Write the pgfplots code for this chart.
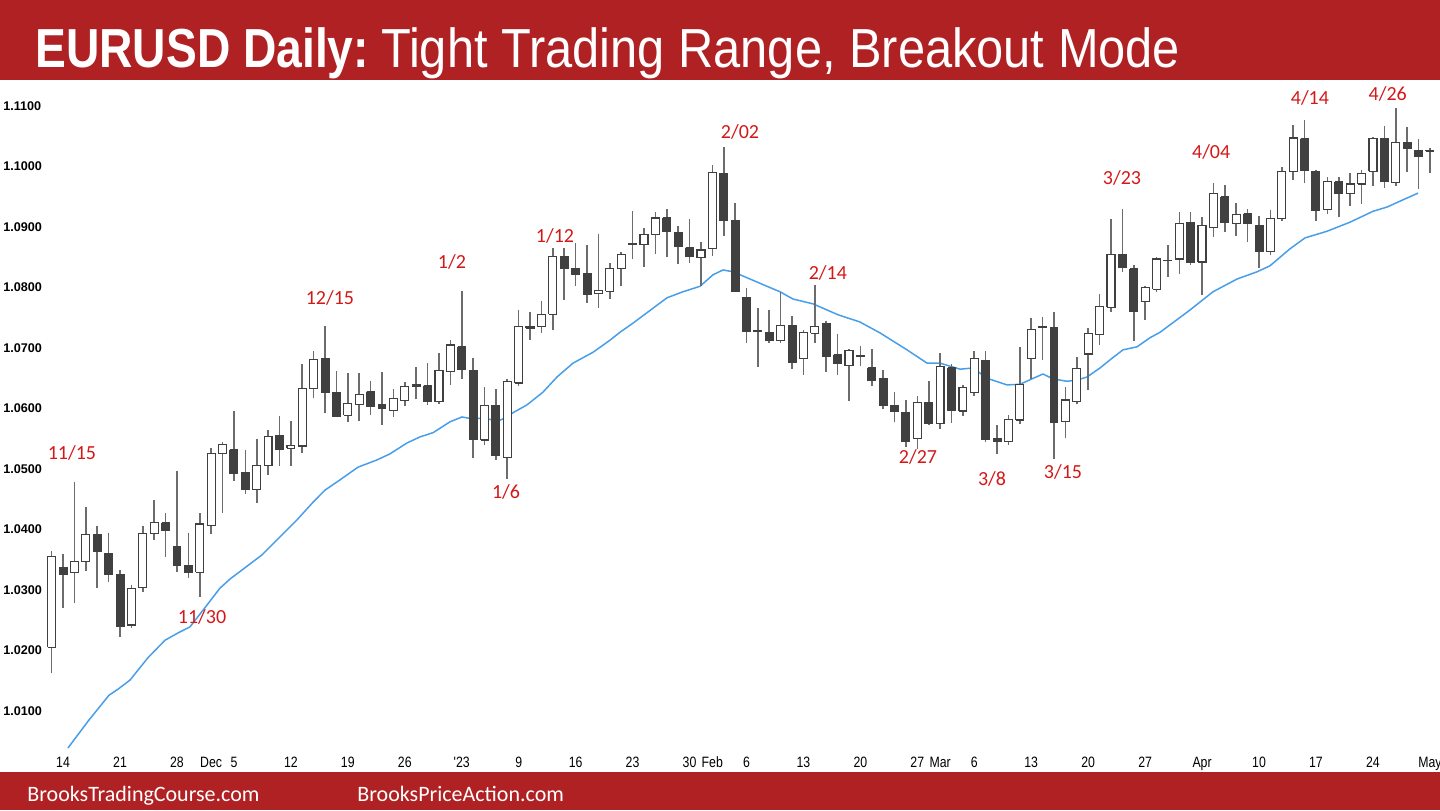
\documentclass[border=0pt]{standalone}
\usepackage{pgfplots}
\usepackage{pgfplotstable}
\pgfplotsset{compat=1.18}
\usepackage{fontspec}
\setmainfont{Liberation Sans}
\newfontfamily\titlebold[FakeStretch=0.84]{Liberation Sans Bold}
\newfontfamily\titlereg[FakeStretch=0.887]{Liberation Sans}
\newfontfamily\narrowfont[FakeStretch=0.82]{Liberation Sans}
\newfontfamily\calibri{Carlito}

\definecolor{banner}{RGB}{176,33,36}
\definecolor{lblred}{RGB}{212,24,24}
\definecolor{emablue}{RGB}{72,158,232}
\definecolor{bodydark}{RGB}{64,64,64}
\definecolor{wickgray}{RGB}{108,108,108}

\pgfplotsset{
  wick/.style={draw=wickgray, line width=0.8pt},
  bearbody/.style={fill=bodydark, draw=bodydark, line width=0.5pt, line join=miter},
  bullbody/.style={fill=white, draw=bodydark, line width=0.6pt, line join=miter},
}
\tikzset{lbl/.style={text=lblred, font=\calibri\fontsize{10}{12}\selectfont, inner sep=0pt}}

\pgfplotstableread{
i o h l c
0 1.0205 1.0365 1.0162 1.0355
1 1.0337 1.0359 1.0270 1.0325
2 1.0329 1.0479 1.0279 1.0347
3 1.0347 1.0438 1.0331 1.0392
4 1.0391 1.0405 1.0304 1.0364
5 1.0361 1.0395 1.0313 1.0325
6 1.0325 1.0333 1.0222 1.0240
7 1.0242 1.0308 1.0238 1.0302
8 1.0304 1.0405 1.0296 1.0394
9 1.0394 1.0448 1.0382 1.0411
10 1.0411 1.0428 1.0355 1.0398
11 1.0372 1.0497 1.0330 1.0340
12 1.0341 1.0395 1.0319 1.0329
13 1.0329 1.0428 1.0289 1.0409
14 1.0406 1.0534 1.0392 1.0525
15 1.0525 1.0545 1.0428 1.0541
16 1.0532 1.0596 1.0480 1.0493
17 1.0494 1.0532 1.0458 1.0466
18 1.0466 1.0550 1.0443 1.0506
19 1.0506 1.0565 1.0490 1.0554
20 1.0556 1.0587 1.0505 1.0533
21 1.0534 1.0580 1.0505 1.0539
22 1.0538 1.0673 1.0527 1.0633
23 1.0633 1.0695 1.0618 1.0681
24 1.0683 1.0736 1.0592 1.0626
25 1.0626 1.0662 1.0586 1.0587
26 1.0589 1.0658 1.0577 1.0608
27 1.0607 1.0658 1.0579 1.0623
28 1.0628 1.0645 1.0590 1.0604
29 1.0606 1.0660 1.0573 1.0600
30 1.0597 1.0633 1.0586 1.0617
31 1.0613 1.0643 1.0604 1.0637
32 1.0637 1.0669 1.0615 1.0639
33 1.0638 1.0675 1.0606 1.0612
34 1.0611 1.0691 1.0608 1.0663
35 1.0661 1.0713 1.0639 1.0705
36 1.0702 1.0795 1.0649 1.0665
37 1.0663 1.0683 1.0519 1.0549
38 1.0548 1.0636 1.0540 1.0605
39 1.0605 1.0632 1.0515 1.0523
40 1.0519 1.0648 1.0483 1.0645
41 1.0642 1.0763 1.0637 1.0735
42 1.0733 1.0760 1.0713 1.0736
43 1.0735 1.0777 1.0725 1.0756
44 1.0756 1.0866 1.0730 1.0851
45 1.0851 1.0866 1.0779 1.0832
46 1.0832 1.0874 1.0803 1.0822
47 1.0823 1.0870 1.0775 1.0788
48 1.0790 1.0888 1.0766 1.0795
49 1.0794 1.0840 1.0781 1.0832
50 1.0831 1.0859 1.0802 1.0855
51 1.0871 1.0927 1.0847 1.0873
52 1.0871 1.0898 1.0834 1.0888
53 1.0888 1.0925 1.0856 1.0915
54 1.0915 1.0929 1.0851 1.0892
55 1.0891 1.0901 1.0839 1.0868
56 1.0866 1.0914 1.0840 1.0852
57 1.0849 1.0876 1.0803 1.0862
58 1.0864 1.1002 1.0852 1.0990
59 1.0989 1.1033 1.0885 1.0911
60 1.0911 1.0940 1.0793 1.0794
61 1.0783 1.0799 1.0709 1.0727
62 1.0727 1.0766 1.0669 1.0728
63 1.0725 1.0762 1.0709 1.0713
64 1.0712 1.0793 1.0708 1.0737
65 1.0737 1.0753 1.0666 1.0676
66 1.0683 1.0730 1.0656 1.0725
67 1.0724 1.0804 1.0708 1.0736
68 1.0740 1.0745 1.0661 1.0686
69 1.0689 1.0723 1.0655 1.0674
70 1.0671 1.0699 1.0612 1.0696
71 1.0686 1.0704 1.0670 1.0687
72 1.0667 1.0698 1.0637 1.0647
73 1.0649 1.0664 1.0600 1.0605
74 1.0605 1.0628 1.0577 1.0595
75 1.0594 1.0614 1.0537 1.0545
76 1.0550 1.0621 1.0533 1.0610
77 1.0610 1.0646 1.0573 1.0575
78 1.0575 1.0691 1.0566 1.0669
79 1.0667 1.0674 1.0576 1.0596
80 1.0596 1.0639 1.0588 1.0635
81 1.0626 1.0695 1.0621 1.0683
82 1.0680 1.0695 1.0545 1.0549
83 1.0550 1.0573 1.0525 1.0545
84 1.0545 1.0590 1.0539 1.0582
85 1.0581 1.0701 1.0574 1.0640
86 1.0683 1.0749 1.0649 1.0731
87 1.0734 1.0752 1.0680 1.0735
88 1.0734 1.0760 1.0517 1.0577
89 1.0578 1.0636 1.0551 1.0614
90 1.0611 1.0685 1.0607 1.0666
91 1.0690 1.0733 1.0631 1.0724
92 1.0722 1.0789 1.0705 1.0769
93 1.0767 1.0913 1.0760 1.0855
94 1.0855 1.0929 1.0826 1.0833
95 1.0831 1.0838 1.0712 1.0760
96 1.0777 1.0803 1.0746 1.0800
97 1.0797 1.0850 1.0793 1.0847
98 1.0844 1.0871 1.0818 1.0845
99 1.0847 1.0925 1.0823 1.0906
100 1.0908 1.0925 1.0837 1.0842
101 1.0842 1.0917 1.0788 1.0903
102 1.0899 1.0973 1.0884 1.0956
103 1.0950 1.0970 1.0892 1.0907
104 1.0906 1.0939 1.0885 1.0921
105 1.0922 1.0929 1.0876 1.0906
106 1.0902 1.0918 1.0832 1.0860
107 1.0859 1.0928 1.0854 1.0914
108 1.0914 1.1000 1.0910 1.0992
109 1.0992 1.1069 1.0978 1.1047
110 1.1046 1.1077 1.0972 1.0993
111 1.0992 1.0994 1.0910 1.0927
112 1.0929 1.0982 1.0921 1.0975
113 1.0975 1.0982 1.0917 1.0956
114 1.0956 1.0990 1.0934 1.0971
115 1.0971 1.0994 1.0938 1.0989
116 1.0992 1.1049 1.0967 1.1046
117 1.1046 1.1067 1.0964 1.0975
118 1.0973 1.1096 1.0968 1.1040
119 1.1040 1.1065 1.0991 1.1029
120 1.1027 1.1045 1.0963 1.1017
121 1.1025 1.1030 1.0989 1.1027
}\candles

\begin{document}
\begin{tikzpicture}
\useasboundingbox (0pt,0pt) rectangle (720pt,405pt);
% banners
\fill[banner] (0pt,365pt) rectangle (720pt,405pt);
\fill[banner] (0pt,0pt) rectangle (720pt,19pt);
\node[anchor=base west, inner sep=0pt, text=white, font=\fontsize{27.5}{30}\selectfont]
  at (17.5pt,371pt) {{\titlebold EURUSD Daily:}\hspace{6pt}{\titlereg Tight Trading Range, Breakout Mode}};
\node[anchor=base west, inner sep=0pt, text=white, font=\calibri\fontsize{11}{13}\selectfont]
  at (13.5pt,4.5pt) {BrooksTradingCourse.com};
\node[anchor=base west, inner sep=0pt, text=white, font=\calibri\fontsize{11}{13}\selectfont]
  at (178.5pt,4.5pt) {BrooksPriceAction.com};

\begin{axis}[
  at={(0pt,29pt)}, anchor=south west,
  scale only axis, width=720pt, height=335pt,
  xmin=-4.539, xmax=121.89, ymin=1.00322, ymax=1.11397,
  axis line style={draw=none},
  major tick length=0pt,
  clip=false,
  xtick={1,6,11,14,16,21,26,31,36,41,46,51,56,58,61,66,71,76,78,81,86,91,96,101,106,111,116,121},
  xticklabels={14,21,28,Dec,5,12,19,26,'23,9,16,23,30,Feb,6,13,20,27,Mar,6,13,20,27,Apr,10,17,24,May},
  xticklabel style={anchor=base, inner sep=0pt, yshift=-7.5pt, font=\narrowfont\fontsize{7.5}{9}\selectfont},
  ytick={1.01,1.02,1.03,1.04,1.05,1.06,1.07,1.08,1.09,1.10,1.11},
  yticklabels={1.0100,1.0200,1.0300,1.0400,1.0500,1.0600,1.0700,1.0800,1.0900,1.1000,1.1100},
  yticklabel style={anchor=west, inner sep=0pt, xshift=1.5pt, font=\bfseries\fontsize{6.3}{7.5}\selectfont},
]
% EMA
\addplot[emablue, line width=0.75pt] coordinates {
(1.43,1.00389) (3.27,1.00850) (5.03,1.01260) (5.82,1.01360) (6.87,1.01510) (8.45,1.01880) (9.95,1.02170) (11.09,1.02290) (12.14,1.02390) (13.63,1.02750) (14.77,1.03030) (15.65,1.03180) (18.46,1.03580) (21.54,1.04160) (22.94,1.04450) (23.99,1.04650) (25.31,1.04820) (26.89,1.05030) (28.56,1.05150) (29.70,1.05250) (31.19,1.05430) (32.33,1.05530) (33.48,1.05600) (34.97,1.05780) (36.02,1.05860) (36.90,1.05830) (38.04,1.05840) (39.10,1.05790) (39.80,1.05840) (40.50,1.05930) (41.73,1.06060) (43.13,1.06270) (44.36,1.06520) (45.77,1.06750) (47.53,1.06930) (49.02,1.07130) (49.89,1.07260) (51.03,1.07410) (54.02,1.07830) (55.43,1.07930) (56.92,1.08020) (58.06,1.08210) (58.94,1.08290) (59.82,1.08260) (61.31,1.08140) (62.80,1.08020) (63.94,1.07930) (65.08,1.07810) (66.84,1.07730) (69.03,1.07550) (70.96,1.07430) (72.72,1.07250) (75.09,1.06970) (76.85,1.06750) (77.99,1.06750) (79.75,1.06650) (80.89,1.06670) (82.12,1.06500) (83.87,1.06390) (85.01,1.06400) (86.07,1.06490) (87.03,1.06570) (87.91,1.06490) (89.14,1.06450) (90.02,1.06470) (90.90,1.06520) (92.04,1.06670) (93.09,1.06830) (94.06,1.06970) (95.29,1.07020) (96.43,1.07170) (97.31,1.07260) (99.95,1.07630) (101.96,1.07930) (104.07,1.08140) (105.83,1.08260) (106.97,1.08360) (108.72,1.08640) (110.04,1.08820) (111.97,1.08930) (113.99,1.09080) (116.01,1.09260) (117.24,1.09330) (119.0,1.09480) (119.96,1.09560)
};
% candles
\pgfplotstablegetrowsof{\candles}
\pgfmathtruncatemacro{\lastrow}{\pgfplotsretval-1}
\pgfplotsforeachungrouped \rowidx in {0,...,\lastrow}{
  \pgfplotstablegetelem{\rowidx}{i}\of\candles \let\ci\pgfplotsretval
  \pgfplotstablegetelem{\rowidx}{o}\of\candles \let\co\pgfplotsretval
  \pgfplotstablegetelem{\rowidx}{h}\of\candles \let\ch\pgfplotsretval
  \pgfplotstablegetelem{\rowidx}{l}\of\candles \let\cl\pgfplotsretval
  \pgfplotstablegetelem{\rowidx}{c}\of\candles \let\cc\pgfplotsretval
  \pgfmathsetmacro{\xa}{\ci-0.35}
  \pgfmathsetmacro{\xb}{\ci+0.35}
  \pgfmathtruncatemacro{\isbear}{\cc<\co}
  \ifnum\isbear=1 \def\cstyle{bearbody}\else\def\cstyle{bullbody}\fi
  \edef\doit{%
    \noexpand\addplot[wick] coordinates {(\ci,\cl) (\ci,\ch)};
    \noexpand\addplot[\cstyle] coordinates {(\xa,\co) (\xb,\co) (\xb,\cc) (\xa,\cc) (\xa,\co)};
  }
  \doit
}
% labels
\node[lbl] at (axis cs:1.78,1.05264) {11/15};
\node[lbl] at (axis cs:13.2,1.02554) {11/30};
\node[lbl] at (axis cs:24.43,1.07826) {12/15};
\node[lbl] at (axis cs:35.14,1.08421) {1/2};
\node[lbl] at (axis cs:44.19,1.08851) {1/12};
\node[lbl] at (axis cs:39.89,1.04620) {1/6};
\node[lbl] at (axis cs:60.43,1.10570) {2/02};
\node[lbl] at (axis cs:68.15,1.08240) {2/14};
\node[lbl] at (axis cs:76.06,1.05198) {2/27};
\node[lbl] at (axis cs:82.56,1.04835) {3/8};
\node[lbl] at (axis cs:88.79,1.04950) {3/15};
\node[lbl] at (axis cs:93.97,1.09810) {3/23};
\node[lbl] at (axis cs:101.8,1.10240) {4/04};
\node[lbl] at (axis cs:110.47,1.11130) {4/14};
\node[lbl] at (axis cs:117.3,1.11200) {4/26};
\end{axis}
\end{tikzpicture}
\end{document}
